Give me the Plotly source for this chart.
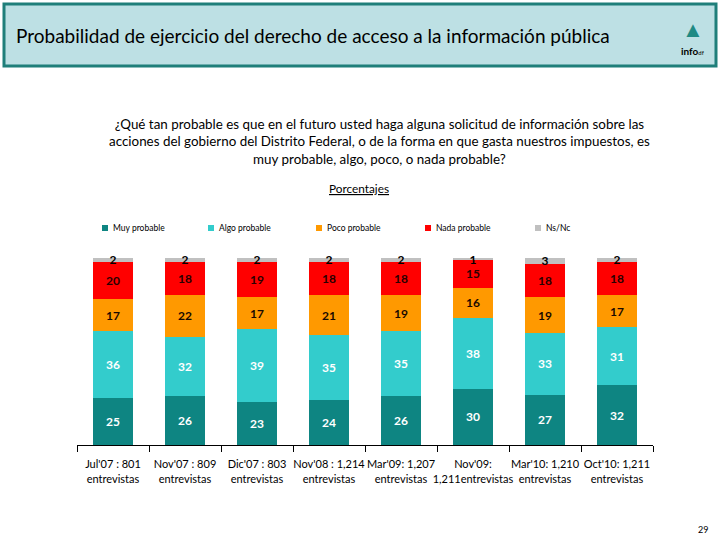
import plotly.graph_objects as go

categories = ["Jul'07 : 801<br>entrevistas", "Nov'07 : 809<br>entrevistas",
              "Dic'07 : 803<br>entrevistas", "Nov'08 : 1,214<br>entrevistas",
              "Mar'09: 1,207<br>entrevistas", "Nov'09:<br>1,211entrevistas",
              "Mar'10: 1,210<br>entrevistas", "Oct'10: 1,211<br>entrevistas"]
muy_probable = [25, 26, 23, 24, 26, 30, 27, 32]
algo_probable = [36, 32, 39, 35, 35, 38, 33, 31]
poco_probable = [17, 22, 17, 21, 19, 16, 19, 17]
nada_probable = [20, 18, 19, 18, 18, 15, 18, 18]
ns_nc = [2, 2, 2, 2, 2, 1, 3, 2]
legend_x = [105, 211, 319, 428, 538]

series = [
    ("Muy probable", muy_probable, "#0E8582", "white"),
    ("Algo probable", algo_probable, "#33CCCC", "white"),
    ("Poco probable", poco_probable, "#FF9900", "#1a0a00"),
    ("Nada probable", nada_probable, "#FF0000", "#2a0000"),
    ("Ns/Nc", ns_nc, "#C0C0C0", "black"),
]

FONT = "Lato"
L, R, T, B = 77, 67, 258, 95
PW, PH = 720 - L - R, 540 - T - B


def px_x(x):
    return (x - L) / PW


def px_y(y):
    return (540 - B - y) / PH


fig = go.Figure()
for name, vals, color, tcolor in series:
    fig.add_trace(go.Bar(
        x=categories, y=vals, name=name, marker_color=color,
        marker_line_width=0,
        text=[str(v) for v in vals], textposition="inside", textangle=0,
        insidetextanchor="middle", cliponaxis=False,
        textfont=dict(family=FONT, size=12, color=tcolor, weight="bold"),
        hoverinfo="skip",
    ))

fig.update_layout(
    barmode="stack", bargap=0.445,
    width=720, height=540,
    margin=dict(l=L, r=R, t=T, b=B, autoexpand=False),
    paper_bgcolor="white", plot_bgcolor="white",
    uniformtext=dict(minsize=12, mode="show"),
    showlegend=False,
    font=dict(family=FONT),
)
fig.update_xaxes(showline=True, linecolor="black", linewidth=1,
                 ticks="outside", tickson="boundaries", ticklen=6, tickcolor="black",
                 tickfont=dict(family=FONT, size=11, color="black"),
                 tickangle=0, automargin=False, ticklabelstandoff=9,
                 showgrid=False)
fig.update_yaxes(range=[0, 100], visible=False, automargin=False)

# manual legend
for (name, _, color, _t), lx in zip(series, legend_x):
    fig.add_shape(type="rect", xref="paper", yref="paper",
                  x0=px_x(lx - 3), x1=px_x(lx + 3), y0=px_y(231), y1=px_y(225),
                  fillcolor=color, line_width=0)
    fig.add_annotation(xref="paper", yref="paper", x=px_x(lx + 6), y=px_y(228),
                       text=name, showarrow=False, xanchor="left", yanchor="middle",
                       font=dict(family=FONT, size=8.5, color="black"))

fig.add_shape(type="rect", xref="paper", yref="paper",
              x0=px_x(4), x1=px_x(716), y0=px_y(66), y1=px_y(4),
              fillcolor="#BDE0E4", line=dict(color="#1F7F7A", width=3), layer="below")
fig.add_annotation(xref="paper", yref="paper", x=px_x(14), y=px_y(35),
                   text="Probabilidad de ejercicio del derecho de acceso a la información pública",
                   showarrow=False, xanchor="left", yanchor="middle",
                   font=dict(family=FONT, size=19, color="black"))
fig.add_annotation(xref="paper", yref="paper", x=px_x(693), y=px_y(28),
                   text="▲", showarrow=False, xanchor="center", yanchor="middle",
                   font=dict(family=FONT, size=22, color="#1F8A84"))
fig.add_annotation(xref="paper", yref="paper", x=px_x(693), y=px_y(51),
                   text="<b>info</b><span style='font-size:6px'>df</span>",
                   showarrow=False, xanchor="center", yanchor="middle",
                   font=dict(family=FONT, size=10, color="black"))
fig.add_annotation(xref="paper", yref="paper", x=px_x(379), y=px_y(141),
                   text="¿Qué tan probable es que en el futuro usted haga alguna solicitud de información sobre las<br>"
                        "acciones del gobierno del Distrito Federal, o de la forma en que gasta nuestros impuestos, es<br>"
                        "muy probable, algo, poco, o nada probable?",
                   showarrow=False, xanchor="center", yanchor="middle", align="center",
                   font=dict(family=FONT, size=13.4, color="black"))
fig.add_annotation(xref="paper", yref="paper", x=px_x(359), y=px_y(188),
                   text="<u>Porcentajes</u>",
                   showarrow=False, xanchor="center", yanchor="middle",
                   font=dict(family=FONT, size=11.8, color="black"))
fig.add_annotation(xref="paper", yref="paper", x=px_x(703), y=px_y(529),
                   text="29", showarrow=False, xanchor="center", yanchor="middle",
                   font=dict(family=FONT, size=9, color="black"))

fig.write_html("out.html", config={"displayModeBar": False},
               post_script="document.body.style.margin='0';document.body.style.overflow='hidden';")
